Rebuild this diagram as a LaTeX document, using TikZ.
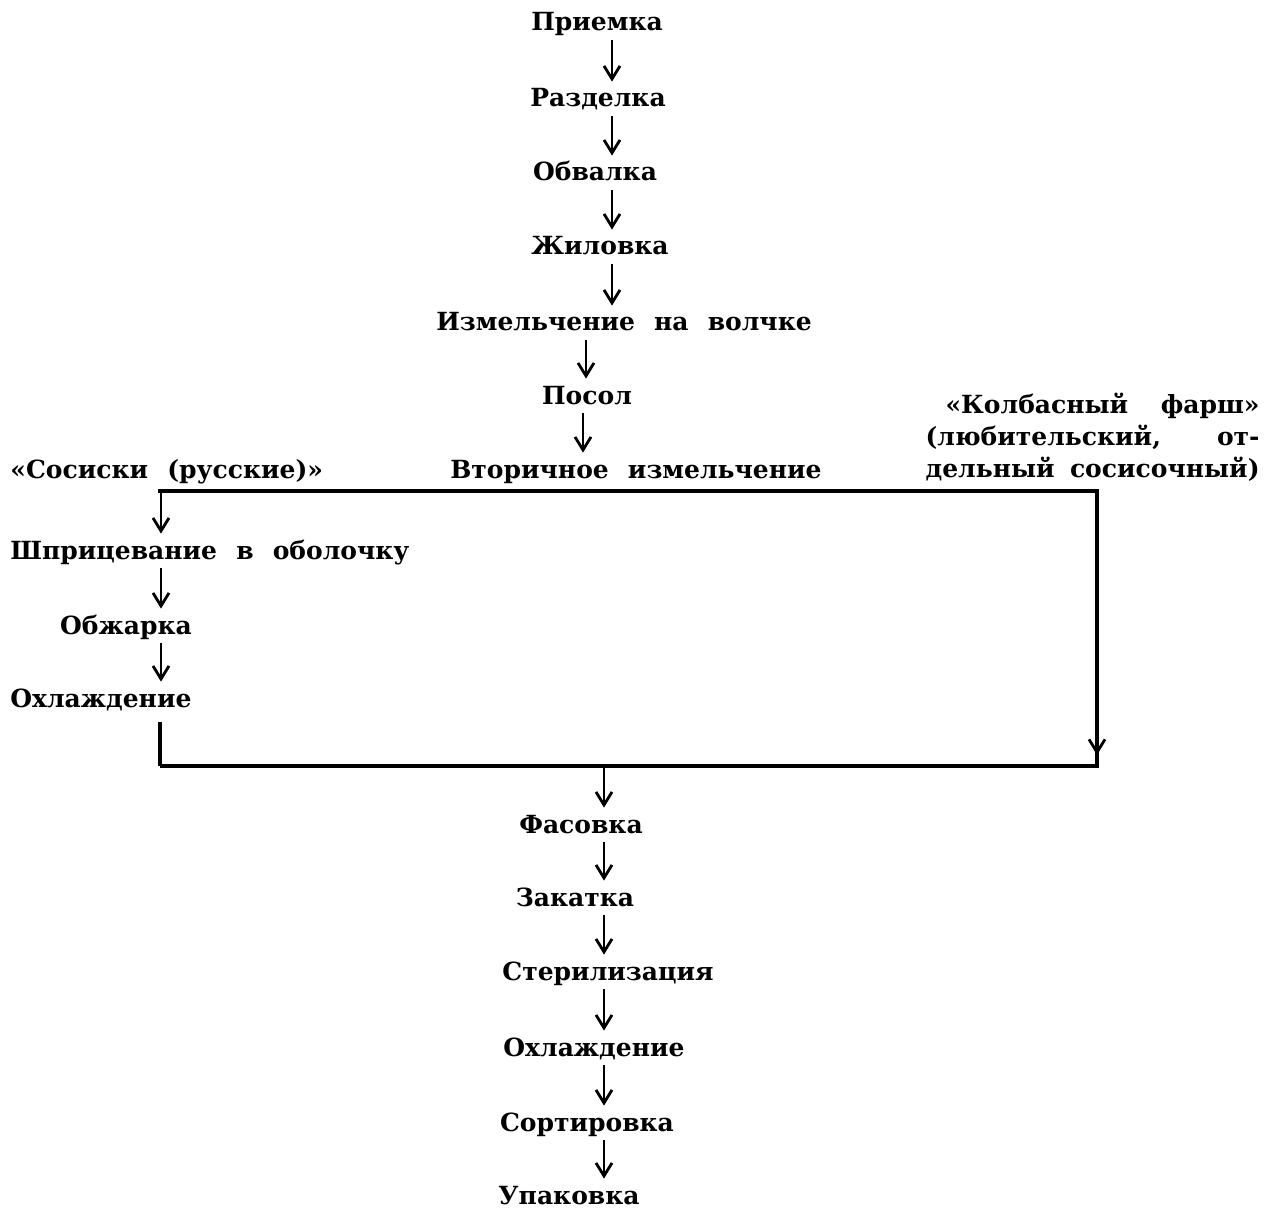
\documentclass[tikz,border=0pt]{standalone}
\usepackage{fontspec}
\setmainfont{DejaVu Serif}[WordSpace=2.2]
\usetikzlibrary{arrows.meta,calc}
\begin{document}
\begin{tikzpicture}[x=0.5pt,y=-0.5pt,
  lbl/.style={font=\fontsize{12.5}{14}\selectfont\bfseries, inner sep=0pt, text height=9.5pt, text depth=3pt, anchor=base},
  lblw/.style={lbl, anchor=base west},
  multi/.style={font=\fontsize{12.5}{16}\selectfont\bfseries, inner sep=0pt, align=left, text width=167pt},
  flow/.style={line width=1.4pt, -{Straight Barb[length=6.5pt,width=8pt]}},
  bar/.style={line width=1.7pt}]
\useasboundingbox (0,0) rectangle (1275,1214);
% main top chain
\node[lbl] (n1) at (597,31) {Приемка};
\node[lbl] (n2) at (598,107) {Разделка};
\node[lbl] (n3) at (595,181) {Обвалка};
\node[lbl] (n4) at (600,255) {Жиловка};
\node[lbl] (n5) at (624,331) {Измельчение на волчке};
\node[lbl] (n6) at (587,404) {Посол};
\node[lbl] (n7) at (636,478) {Вторичное измельчение};
% side labels
\node[lblw] (sos) at (10,478) {«Сосиски (русские)»};
\node[multi, anchor=north east] (kol) at (1260,393) {\hspace*{10pt}«Колбасный\hfill фарш»\\(любительский,\hfill от-\\дельный\hfill сосисочный)};
% left branch
\node[lblw] (sh) at (10,559) {Шприцевание в оболочку};
\node[lbl] (ob) at (126,634) {Обжарка};
\node[lblw] (oh) at (10,707) {Охлаждение};
% bottom chain
\node[lbl] (f) at (581,833) {Фасовка};
\node[lbl] (z) at (575,906) {Закатка};
\node[lbl] (st) at (608,980) {Стерилизация};
\node[lbl] (oh2) at (594,1056) {Охлаждение};
\node[lbl] (so) at (587,1131) {Сортировка};
\node[lbl] (up) at (569,1204) {Упаковка};
% coordinates
\coordinate (a1) at (612,0);
\coordinate (a2) at (586,0);
\coordinate (a3) at (583,0);
\coordinate (al) at (161,0);
\coordinate (ab) at (604,0);
\coordinate (tl) at (158,491);
\coordinate (tr) at (1097,491);
\coordinate (bl) at (160,766);
\coordinate (br) at (1097,766);
% top chain arrows
\draw[flow] ($(n1.south -| a1)+(0,3)$) -- ($(n2.north -| a1)+(0,-6)$);
\draw[flow] ($(n2.south -| a1)+(0,3)$) -- ($(n3.north -| a1)+(0,-6)$);
\draw[flow] ($(n3.south -| a1)+(0,3)$) -- ($(n4.north -| a1)+(0,-6)$);
\draw[flow] ($(n4.south -| a1)+(0,3)$) -- ($(n5.north -| a1)+(0,-6)$);
\draw[flow] ($(n5.south -| a2)+(0,3)$) -- ($(n6.north -| a2)+(0,-6)$);
\draw[flow] ($(n6.south -| a3)+(0,3)$) -- ($(n7.north -| a3)+(0,-6)$);
% frame lines
\draw[bar] (tl) -- (tr) -- (br) -- (bl);
\draw[flow] ($(br)+(0,-40)$) -- ($(br)+(0,-11)$);
% left branch arrows
\draw[flow] (tl -| al) -- ($(sh.north -| al)+(0,-6)$);
\draw[flow] ($(sh.south -| al)+(0,3)$) -- ($(ob.north -| al)+(0,-6)$);
\draw[flow] ($(ob.south -| al)+(0,3)$) -- ($(oh.north -| al)+(0,-6)$);
\draw[bar] ($(oh.south -| bl)+(0,9)$) -- (bl);
% bottom chain arrows
\draw[flow] (bl -| ab) -- ($(f.north -| ab)+(0,-6)$);
\draw[flow] ($(f.south -| ab)+(0,3)$) -- ($(z.north -| ab)+(0,-6)$);
\draw[flow] ($(z.south -| ab)+(0,3)$) -- ($(st.north -| ab)+(0,-6)$);
\draw[flow] ($(st.south -| ab)+(0,3)$) -- ($(oh2.north -| ab)+(0,-6)$);
\draw[flow] ($(oh2.south -| ab)+(0,3)$) -- ($(so.north -| ab)+(0,-6)$);
\draw[flow] ($(so.south -| ab)+(0,3)$) -- ($(up.north -| ab)+(0,-6)$);
\end{tikzpicture}
\end{document}
